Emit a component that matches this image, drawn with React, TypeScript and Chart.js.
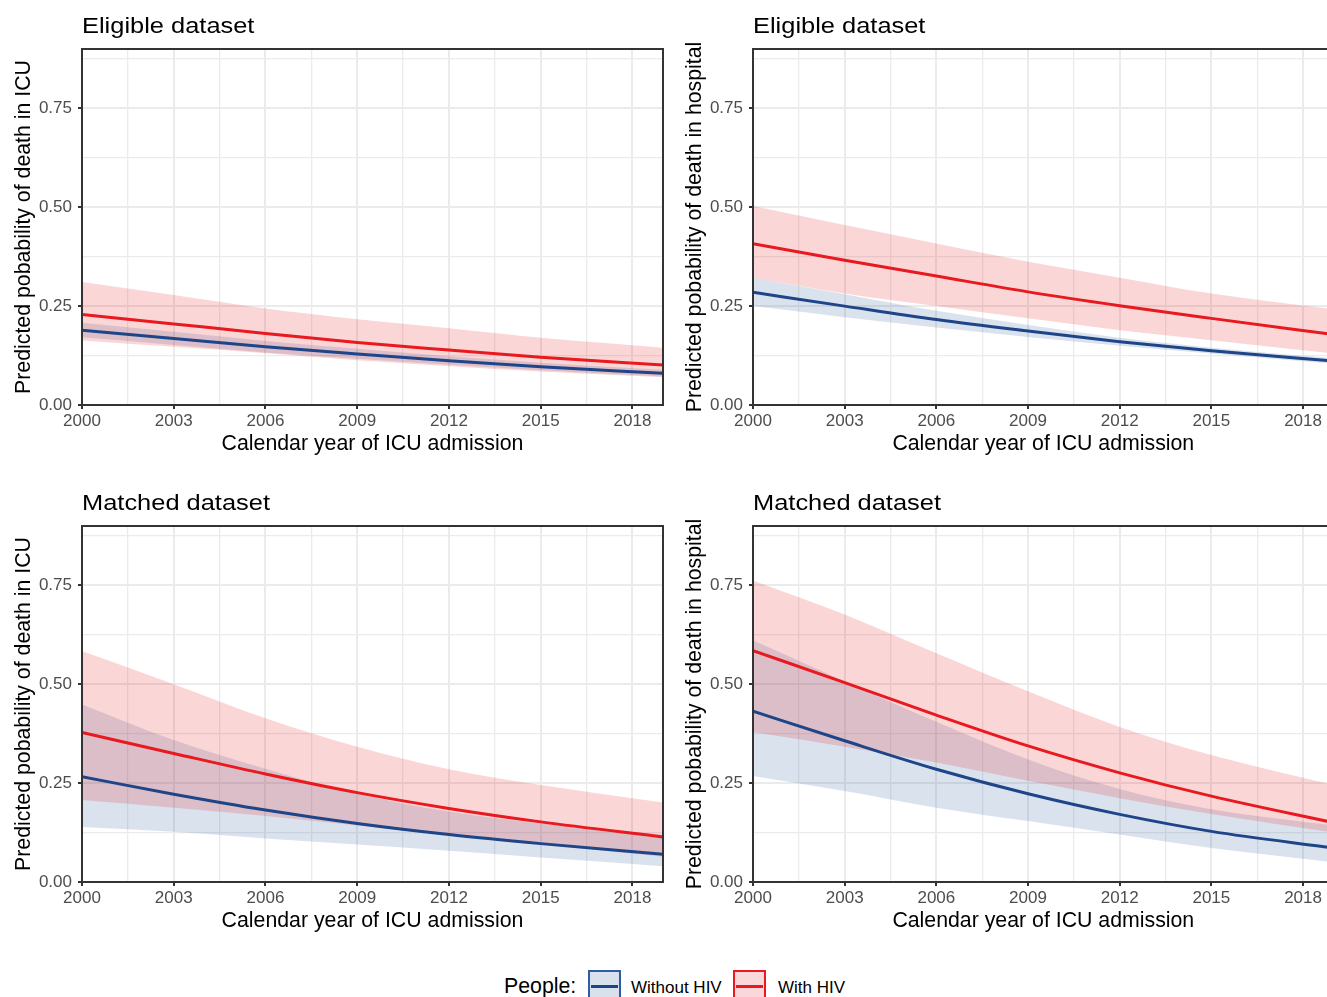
import React, { useEffect, useRef } from "react";
import { Chart, registerables } from "chart.js";

Chart.register(...registerables);

const FONT = '"Liberation Sans", Arial, Helvetica, sans-serif';

// ---------- data ----------
const YEARS = [2000, 2003, 2006, 2009, 2012, 2015, 2019];

const X_TICKS = [2000, 2001.5, 2003, 2004.5, 2006, 2007.5, 2009, 2010.5, 2012, 2013.5, 2015, 2016.5, 2018];
const X_MAJOR = [2000, 2003, 2006, 2009, 2012, 2015, 2018];
const X_LABELS = ["2000", "2003", "2006", "2009", "2012", "2015", "2018"];
const Y_TICKS = [0, 0.125, 0.25, 0.375, 0.5, 0.625, 0.75, 0.875];
const Y_MAJOR = [0, 0.25, 0.5, 0.75];
const Y_LABELS = ["0.00", "0.25", "0.50", "0.75"];

// Eligible dataset - death in ICU
const ELIG_ICU_HIV = [0.229, 0.205, 0.181, 0.158, 0.139, 0.121, 0.101];
const ELIG_ICU_HIV_HI = [0.311, 0.278, 0.244, 0.217, 0.194, 0.17, 0.145];
const ELIG_ICU_HIV_LO = [0.163, 0.147, 0.131, 0.113, 0.098, 0.085, 0.07];
const ELIG_ICU_NOHIV = [0.189, 0.168, 0.147, 0.129, 0.112, 0.097, 0.08];
const ELIG_ICU_NOHIV_HI = [0.208, 0.185, 0.162, 0.142, 0.123, 0.107, 0.089];
const ELIG_ICU_NOHIV_LO = [0.171, 0.152, 0.133, 0.117, 0.102, 0.088, 0.072];

// Eligible dataset - death in hospital
const ELIG_HOSP_HIV = [0.408, 0.366, 0.326, 0.286, 0.251, 0.219, 0.178];
const ELIG_HOSP_HIV_HI = [0.503, 0.455, 0.408, 0.362, 0.322, 0.282, 0.242];
const ELIG_HOSP_HIV_LO = [0.322, 0.282, 0.25, 0.219, 0.189, 0.164, 0.13];
const ELIG_HOSP_NOHIV = [0.285, 0.25, 0.216, 0.187, 0.16, 0.137, 0.111];
const ELIG_HOSP_NOHIV_HI = [0.322, 0.28, 0.238, 0.202, 0.17, 0.145, 0.118];
const ELIG_HOSP_NOHIV_LO = [0.25, 0.222, 0.196, 0.172, 0.15, 0.13, 0.104];

// Matched dataset - death in ICU
const MATCH_ICU_HIV = [0.378, 0.325, 0.273, 0.226, 0.186, 0.152, 0.114];
const MATCH_ICU_HIV_HI = [0.584, 0.5, 0.414, 0.342, 0.285, 0.245, 0.201];
const MATCH_ICU_HIV_LO = [0.207, 0.188, 0.167, 0.143, 0.118, 0.095, 0.064];
const MATCH_ICU_NOHIV = [0.266, 0.222, 0.182, 0.148, 0.12, 0.097, 0.07];
const MATCH_ICU_NOHIV_HI = [0.449, 0.359, 0.286, 0.223, 0.178, 0.148, 0.12];
const MATCH_ICU_NOHIV_LO = [0.139, 0.127, 0.11, 0.095, 0.079, 0.062, 0.04];

// Matched dataset - death in hospital
const MATCH_HOSP_HIV = [0.585, 0.504, 0.422, 0.344, 0.276, 0.217, 0.15];
const MATCH_HOSP_HIV_HI = [0.762, 0.676, 0.578, 0.482, 0.392, 0.321, 0.245];
const MATCH_HOSP_HIV_LO = [0.379, 0.342, 0.302, 0.256, 0.212, 0.172, 0.125];
const MATCH_HOSP_NOHIV = [0.432, 0.357, 0.285, 0.223, 0.171, 0.128, 0.086];
const MATCH_HOSP_NOHIV_HI = [0.611, 0.507, 0.405, 0.31, 0.235, 0.184, 0.143];
const MATCH_HOSP_NOHIV_LO = [0.268, 0.23, 0.188, 0.154, 0.12, 0.086, 0.05];

// ---------- styles ----------
const RED = "#E8191F";
const BLUE = "#1F4589";
const RED_FILL = "rgba(232, 25, 30, 0.18)";
const BLUE_FILL = "rgba(35, 85, 155, 0.17)";
const GRID = "#EBEBEB";
const DARK = "#333333";

function series(ys: number[]) {
  return YEARS.map((x, i) => ({ x, y: ys[i] }));
}

const panelDeco = {
  id: "panelDeco",
  afterDraw(chart: any, _args: any, opts: any) {
    const { ctx, chartArea } = chart;
    const { left, top, right, bottom } = chartArea;
    ctx.save();
    ctx.strokeStyle = DARK;
    ctx.lineWidth = 2;
    ctx.strokeRect(left, top, right - left, bottom - top);
    ctx.fillStyle = "#000000";
    ctx.font = `22.5px ${FONT}`;
    ctx.textBaseline = "alphabetic";
    ctx.textAlign = "left";
    ctx.translate(left, top - 16);
    ctx.scale(1.13, 1);
    ctx.fillText(opts.title, 0, 0);
    ctx.restore();
  },
};

type PanelProps = {
  left: number;
  top: number;
  width: number;
  height: number;
  padTop: number;
  padRight: number;
  yAxisWidth: number;
  yTitlePad: number;
  title: string;
  yTitle: string;
  hiv: number[];
  hivHi: number[];
  hivLo: number[];
  noHiv: number[];
  noHivHi: number[];
  noHivLo: number[];
};

function Panel(p: PanelProps) {
  const ref = useRef<HTMLCanvasElement | null>(null);
  useEffect(() => {
    if (!ref.current) return;
    const xIsMajor = (v: number) => X_MAJOR.indexOf(v) >= 0;
    const yIsMajor = (v: number) => Y_MAJOR.indexOf(v) >= 0;
    const chart = new Chart(ref.current, {
      type: "line",
      data: {
        datasets: [
          { label: "With HIV", data: series(p.hiv), borderColor: RED, borderWidth: 3, fill: false },
          { label: "Without HIV", data: series(p.noHiv), borderColor: BLUE, borderWidth: 3, fill: false },
          {
            label: "With HIV upper",
            data: series(p.hivHi),
            borderColor: "rgba(0,0,0,0)",
            borderWidth: 1,
            backgroundColor: RED_FILL,
            fill: "+1",
          },
          { label: "With HIV lower", data: series(p.hivLo), borderColor: "rgba(0,0,0,0)", borderWidth: 1, fill: false },
          {
            label: "Without HIV upper",
            data: series(p.noHivHi),
            borderColor: "rgba(0,0,0,0)",
            borderWidth: 1,
            backgroundColor: BLUE_FILL,
            fill: "+1",
          },
          { label: "Without HIV lower", data: series(p.noHivLo), borderColor: "rgba(0,0,0,0)", borderWidth: 1, fill: false },
        ],
      } as any,
      options: {
        animation: false,
        responsive: false,
        devicePixelRatio: 1,
        events: [],
        layout: { padding: { left: 0, right: p.padRight, top: p.padTop, bottom: 0 } },
        elements: {
          point: { radius: 0 },
          line: { cubicInterpolationMode: "monotone", borderCapStyle: "butt" },
        },
        plugins: {
          legend: { display: false },
          tooltip: { enabled: false },
          panelDeco: { title: p.title },
        } as any,
        scales: {
          x: {
            type: "linear",
            min: 2000,
            max: 2019,
            afterBuildTicks: (s: any) => {
              s.ticks = X_TICKS.map((v) => ({ value: v }));
            },
            afterFit: (s: any) => {
              s.height = 60;
            },
            ticks: {
              autoSkip: false,
              maxRotation: 0,
              padding: 2.5,
              color: "#4D4D4D",
              font: { family: FONT, size: 17 },
              callback: (v: any) => {
                const i = X_MAJOR.indexOf(Number(v));
                return i >= 0 ? X_LABELS[i] : "";
              },
            },
            grid: {
              color: (c: any) => GRID,
              lineWidth: (c: any) => (c.tick && xIsMajor(c.tick.value) ? 2 : 1.3),
              tickLength: 4,
              tickWidth: 2,
              tickColor: (c: any) => (c.tick && xIsMajor(c.tick.value) ? DARK : "rgba(0,0,0,0)"),
            },
            border: { display: false },
            title: {
              display: true,
              text: "Calendar year of ICU admission",
              color: "#000000",
              font: { family: FONT, size: 21.3, lineHeight: 1 },
              padding: { top: 0, bottom: 10.5 },
            },
          },
          y: {
            type: "linear",
            min: 0,
            max: 0.9,
            afterBuildTicks: (s: any) => {
              s.ticks = Y_TICKS.map((v) => ({ value: v }));
            },
            afterFit: (s: any) => {
              s.width = p.yAxisWidth;
            },
            ticks: {
              autoSkip: false,
              padding: 6,
              color: "#4D4D4D",
              font: { family: FONT, size: 17 },
              callback: (v: any) => {
                const i = Y_MAJOR.indexOf(Number(v));
                return i >= 0 ? Y_LABELS[i] : "";
              },
            },
            grid: {
              color: (c: any) => GRID,
              lineWidth: (c: any) => (c.tick && yIsMajor(c.tick.value) ? 2 : 1.3),
              tickLength: 4,
              tickWidth: 2,
              tickColor: (c: any) => (c.tick && yIsMajor(c.tick.value) ? DARK : "rgba(0,0,0,0)"),
            },
            border: { display: false },
            title: {
              display: true,
              text: p.yTitle,
              color: "#000000",
              font: { family: FONT, size: 21.3, lineHeight: 1 },
              padding: { top: p.yTitlePad, bottom: 0 },
            },
          },
        },
      } as any,
      plugins: [panelDeco as any],
    });
    return () => chart.destroy();
  }, []);
  return (
    <canvas
      ref={ref}
      width={p.width}
      height={p.height}
      style={{ position: "absolute", left: p.left, top: p.top, width: p.width, height: p.height }}
    />
  );
}

const textStyle = (size: number, left: number, top: number): React.CSSProperties => ({
  position: "absolute",
  left,
  top,
  fontFamily: FONT,
  fontSize: size,
  lineHeight: "30px",
  height: 30,
  whiteSpace: "nowrap",
  color: "#000",
});

function LegendKey({ left, border, fill, line }: { left: number; border: string; fill: string; line: string }) {
  return (
    <div
      style={{
        position: "absolute",
        left,
        top: 970,
        width: 33,
        height: 33,
        boxSizing: "border-box",
        border: `2px solid ${border}`,
        background: fill,
      }}
    >
      <div style={{ position: "absolute", left: 1, right: 1, top: 12.5, height: 3, background: line }} />
    </div>
  );
}

export default function App() {
  return (
    <div
      style={{
        position: "absolute",
        left: 0,
        top: 0,
        width: 1327,
        height: 997,
        overflow: "hidden",
        background: "#ffffff",
      }}
    >
      <Panel
        left={0}
        top={0}
        width={672}
        height={465}
        padTop={49}
        padRight={9}
        yAxisWidth={82}
        yTitlePad={13.6}
        title="Eligible dataset"
        yTitle="Predicted pobability of death in ICU"
        hiv={ELIG_ICU_HIV}
        hivHi={ELIG_ICU_HIV_HI}
        hivLo={ELIG_ICU_HIV_LO}
        noHiv={ELIG_ICU_NOHIV}
        noHivHi={ELIG_ICU_NOHIV_HI}
        noHivLo={ELIG_ICU_NOHIV_LO}
      />
      <Panel
        left={670}
        top={0}
        width={680}
        height={465}
        padTop={49}
        padRight={16.4}
        yAxisWidth={83}
        yTitlePad={14.3}
        title="Eligible dataset"
        yTitle="Predicted pobability of death in hospital"
        hiv={ELIG_HOSP_HIV}
        hivHi={ELIG_HOSP_HIV_HI}
        hivLo={ELIG_HOSP_HIV_LO}
        noHiv={ELIG_HOSP_NOHIV}
        noHivHi={ELIG_HOSP_NOHIV_HI}
        noHivLo={ELIG_HOSP_NOHIV_LO}
      />
      <Panel
        left={0}
        top={470}
        width={672}
        height={472}
        padTop={56}
        padRight={9}
        yAxisWidth={82}
        yTitlePad={13.6}
        title="Matched dataset"
        yTitle="Predicted pobability of death in ICU"
        hiv={MATCH_ICU_HIV}
        hivHi={MATCH_ICU_HIV_HI}
        hivLo={MATCH_ICU_HIV_LO}
        noHiv={MATCH_ICU_NOHIV}
        noHivHi={MATCH_ICU_NOHIV_HI}
        noHivLo={MATCH_ICU_NOHIV_LO}
      />
      <Panel
        left={670}
        top={470}
        width={680}
        height={472}
        padTop={56}
        padRight={16.4}
        yAxisWidth={83}
        yTitlePad={14.3}
        title="Matched dataset"
        yTitle="Predicted pobability of death in hospital"
        hiv={MATCH_HOSP_HIV}
        hivHi={MATCH_HOSP_HIV_HI}
        hivLo={MATCH_HOSP_HIV_LO}
        noHiv={MATCH_HOSP_NOHIV}
        noHivHi={MATCH_HOSP_NOHIV_HI}
        noHivLo={MATCH_HOSP_NOHIV_LO}
      />
      <div style={textStyle(21.3, 504, 971)}>People:</div>
      <LegendKey left={588} border="#2E5DA6" fill="rgb(217, 226, 236)" line={BLUE} />
      <div style={textStyle(17, 631, 972.5)}>Without HIV</div>
      <LegendKey left={733} border={RED} fill="rgb(250, 215, 218)" line={RED} />
      <div style={textStyle(17, 778, 972.5)}>With HIV</div>
    </div>
  );
}
